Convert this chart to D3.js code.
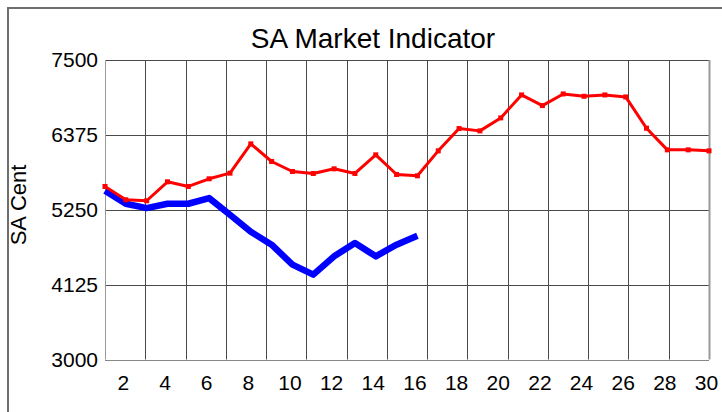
<!DOCTYPE html>
<html>
<head>
<meta charset="utf-8">
<script src="https://cdn.jsdelivr.net/npm/d3@7"></script>
<style>
  html, body { margin: 0; padding: 0; background: #fff; }
  svg { display: block; }
  text { font-family: "Liberation Sans", Arial, sans-serif; fill: #000; }
</style>
</head>
<body>
<svg id="chart" width="722" height="412"></svg>
<script>
// ---- data ----
const days = d3.range(1, 31);
const redSeries = [5600, 5400, 5385, 5670, 5600, 5715, 5800, 6240, 5975, 5825,
                   5795, 5865, 5795, 6075, 5780, 5760, 6135, 6470, 6435, 6630,
                   6975, 6815, 6990, 6955, 6975, 6945, 6475, 6150, 6150, 6135];
const blueSeries = [5535, 5340, 5275, 5340, 5340, 5425, 5175, 4920, 4725, 4425,
                    4275, 4550, 4750, 4550, 4725, 4860];
const yTicks = [3000, 4125, 5250, 6375, 7500];
const xTickLabels = [2, 4, 6, 8, 10, 12, 14, 16, 18, 20, 22, 24, 26, 28, 30];
const chartTitle = "SA Market Indicator";
const yTitle = "SA Cent";

// ---- layout ----
const svg = d3.select("#chart");
const pl = 105, pr = 709, pt = 60, pb = 359.5;

const x = d3.scaleLinear().domain([1, 30]).range([pl, pr]);
const y = d3.scaleLinear().domain([3000, 7500]).range([pb, pt]);
const xGrid = d3.scaleLinear().domain([0, 15]).range([pl, pr]);

// outer frame
svg.append("path")
  .attr("d", `M8,412 L8,8 L722,8`)
  .attr("fill", "none").attr("stroke", "#6e6e6e").attr("stroke-width", 2);

// horizontal grid
svg.append("g").selectAll("line").data(yTicks).join("line")
  .attr("x1", pl).attr("x2", pr)
  .attr("y1", d => Math.round(y(d)) + 0.5).attr("y2", d => Math.round(y(d)) + 0.5)
  .attr("stroke", d => d === 3000 ? "#888" : "#4a4a4a").attr("stroke-width", 1);

// vertical grid
svg.append("g").selectAll("line").data(d3.range(0, 16)).join("line")
  .attr("x1", d => Math.round(xGrid(d)) + 0.5).attr("x2", d => Math.round(xGrid(d)) + 0.5)
  .attr("y1", pt).attr("y2", pb)
  .attr("stroke", d => (d === 0 || d === 15) ? "#999" : "#4a4a4a")
  .attr("stroke-width", d => d === 15 ? 2 : 1);

// y axis labels
const yAxis = d3.axisLeft(y).tickValues(yTicks).tickFormat(d3.format("d"))
  .tickSize(0).tickPadding(7);
const gy = svg.append("g").attr("transform", `translate(${pl},0)`).call(yAxis);
gy.select(".domain").remove();
gy.selectAll("text").style("font-size", "21px")
  .style("font-family", '"Liberation Sans", Arial, sans-serif').attr("fill", "#000");

// x axis labels
const xAxis = d3.axisBottom(x).tickValues(xTickLabels).tickFormat(d3.format("d"))
  .tickSize(0).tickPadding(16);
const gx = svg.append("g").attr("transform", `translate(-3,${pb})`).call(xAxis);
gx.select(".domain").remove();
gx.selectAll("text").style("font-size", "21px")
  .style("font-family", '"Liberation Sans", Arial, sans-serif').attr("fill", "#000");

// title
svg.append("text").attr("x", 373).attr("y", 48).attr("text-anchor", "middle")
  .style("font-size", "28px").text(chartTitle);

// y title
svg.append("text").attr("transform", "translate(26,205) rotate(-90)")
  .attr("text-anchor", "middle").style("font-size", "22px").text(yTitle);

// lines
const line = d3.line().x((d, i) => x(days[i])).y(d => y(d));

svg.append("path").datum(blueSeries)
  .attr("d", line).attr("fill", "none")
  .attr("stroke", "#0000ff").attr("stroke-width", 6.5).attr("stroke-linejoin", "round");

svg.append("path").datum(redSeries)
  .attr("d", line).attr("fill", "none")
  .attr("stroke", "#ff0000").attr("stroke-width", 3).attr("stroke-linejoin", "round");

svg.append("g").selectAll("rect").data(redSeries).join("rect")
  .attr("x", (d, i) => x(days[i]) - 2.5).attr("y", d => y(d) - 2.5)
  .attr("width", 5).attr("height", 5).attr("fill", "#ff0000");
</script>
</body>
</html>
